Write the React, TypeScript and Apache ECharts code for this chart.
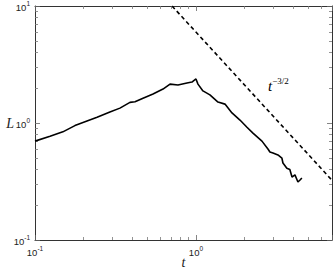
import React, { useEffect, useRef } from "react";
import * as echarts from "echarts";

// Measured curve L(t)
const tValues = [
  0.1, 0.124, 0.149, 0.177, 0.243, 0.292, 0.337, 0.389, 0.418, 0.469, 0.541, 0.624,
  0.69, 0.773, 0.879, 0.944, 1.0, 1.029, 1.105, 1.221, 1.37, 1.514, 1.674, 1.876,
  2.074, 2.26, 2.57, 2.8, 2.88, 3.01, 3.23, 3.42, 3.47, 3.67, 3.83, 3.95, 4.12, 4.3,
  4.43, 4.55,
];
const lValues = [
  0.7, 0.77, 0.84, 0.95, 1.12, 1.24, 1.34, 1.5, 1.52, 1.63, 1.77, 1.95,
  2.15, 2.11, 2.2, 2.24, 2.38, 2.15, 1.88, 1.74, 1.51, 1.45, 1.22, 1.06,
  0.92, 0.82, 0.7, 0.6, 0.565, 0.554, 0.533, 0.5, 0.455, 0.41, 0.4, 0.345, 0.36, 0.313,
  0.326, 0.339,
];

// Reference power law t^{-3/2} (straight line on log-log axes)
const refT = [0.71, 7];
const refL = [10, 0.324];

const xRange = [0.1, 7];
const yRange = [0.1, 10];

const labelFont = "'Liberation Sans', Arial, sans-serif";
const serif = "'Liberation Serif', 'DejaVu Serif', serif";

function fmtPow(v: number) {
  const e = Math.round(Math.log10(v));
  return `{b|10}{s|${e}}`;
}

const richLabel = {
  b: { fontSize: 9.5, fontFamily: labelFont, color: "#222", verticalAlign: "bottom", lineHeight: 12 },
  s: { fontSize: 6.5, fontFamily: labelFont, color: "#222", verticalAlign: "top", lineHeight: 7 },
};

export default function App() {
  const ref = useRef<HTMLDivElement>(null);
  useEffect(() => {
    if (!ref.current) return;
    const chart = echarts.init(ref.current, null, { renderer: "svg" });
    const axisLine = { show: true, lineStyle: { color: "#333", width: 1 } };
    const tick = { show: true, inside: true, length: 5, lineStyle: { color: "#666", width: 0.8 } };
    const minor = { show: true, splitNumber: 9, length: 3, lineStyle: { color: "#777", width: 0.8 } };
    chart.setOption({
      animation: false,
      grid: { left: 35, right: 1, top: 6, bottom: 34, containLabel: false, outerBoundsMode: "none" },
      xAxis: [
        {
          type: "log", logBase: 10, min: xRange[0], max: xRange[1], position: "bottom",
          axisLine, axisTick: tick, minorTick: minor, splitLine: { show: false },
          axisLabel: { show: true, margin: 5, formatter: fmtPow, rich: richLabel, showMaxLabel: false },
          name: "t", nameLocation: "middle", nameGap: 15, nameMoveOverlap: false,
          nameTextStyle: { fontFamily: serif, fontStyle: "italic", fontSize: 14, color: "#222" },
        },
        {
          type: "log", logBase: 10, min: xRange[0], max: xRange[1], position: "top",
          axisLine, axisTick: tick, minorTick: minor, splitLine: { show: false },
          axisLabel: { show: false },
        },
      ],
      yAxis: [
        {
          type: "log", logBase: 10, min: yRange[0], max: yRange[1], position: "left",
          axisLine, axisTick: tick, minorTick: minor, splitLine: { show: false },
          axisLabel: { show: true, margin: 5, formatter: fmtPow, rich: richLabel },
          name: "L", nameLocation: "middle", nameGap: 21, nameRotate: 0, nameMoveOverlap: false,
          nameTextStyle: { fontFamily: serif, fontStyle: "italic", fontSize: 14, color: "#222" },
        },
        {
          type: "log", logBase: 10, min: yRange[0], max: yRange[1], position: "right",
          axisLine, axisTick: tick, minorTick: minor, splitLine: { show: false },
          axisLabel: { show: false },
        },
      ],
      series: [
        {
          type: "line",
          data: tValues.map((t, i) => [t, lValues[i]]),
          showSymbol: false,
          lineStyle: { color: "#000", width: 1.6 },
          xAxisIndex: 0, yAxisIndex: 0,
        },
        {
          type: "line",
          data: refT.map((t, i) => [t, refL[i]]),
          showSymbol: false,
          lineStyle: { color: "#000", width: 1.6, type: [4, 3] },
          xAxisIndex: 0, yAxisIndex: 0,
        },
      ],
      graphic: [
        {
          type: "text",
          left: 268,
          top: 76,
          style: {
            text: "{t|t}{s|−3/2}",
            rich: {
              t: { fontFamily: serif, fontStyle: "italic", fontSize: 15, color: "#444", verticalAlign: "bottom", lineHeight: 17 },
              s: { fontFamily: serif, fontSize: 9, color: "#444", verticalAlign: "top", lineHeight: 9 },
            },
          },
        },
      ],
    });
    return () => chart.dispose();
  }, []);
  return (
    <div
      ref={ref}
      style={{ position: "absolute", left: 0, top: 0, width: 333, height: 274 }}
    />
  );
}
